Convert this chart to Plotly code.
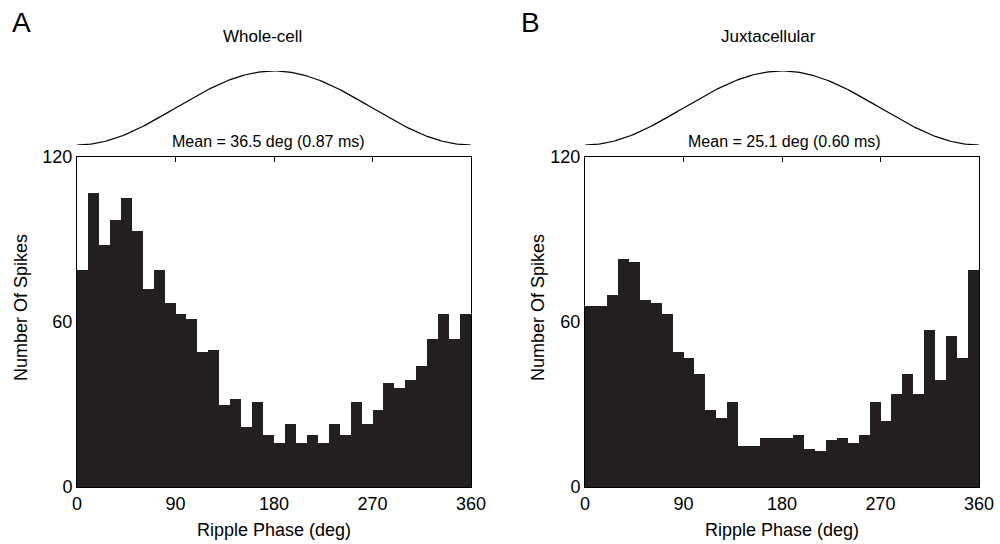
import numpy as np
import plotly.graph_objects as go

# ---- data ----
phase_bin_edges = list(range(0, 370, 10))  # 10-degree bins, 0..360
whole_cell_counts = [79, 107, 88, 97, 105, 93, 72, 79, 67, 63, 61, 49, 50, 30, 32, 22, 31, 19,
                     16, 23, 16, 19, 16, 23, 19, 31, 23, 28, 38, 36, 39, 44, 54, 63, 54, 63]
juxta_counts = [66, 66, 70, 83, 82, 68, 67, 63, 49, 47, 41, 28, 25, 31, 15, 15, 18, 18,
                18, 19, 14, 13, 17, 18, 16, 19, 31, 24, 34, 41, 34, 57, 39, 55, 47, 79]
x_ticks = [0, 90, 180, 270, 360]
y_ticks = [0, 60, 120]
panel_titles = ["Whole-cell", "Juxtacellular"]
panel_letters = ["A", "B"]
mean_texts = ["Mean = 36.5 deg (0.87 ms)", "Mean = 25.1 deg (0.60 ms)"]
# schematic ripple cycle (one period, trough at 0/360, peak at 180)
ripple_phase = np.linspace(0, 360, 181)
ripple_wave = -np.cos(np.deg2rad(ripple_phase))

W, H = 1000, 544
BAR_COLOR = "#231f20"
FONT = "Liberation Sans, Arial, Helvetica, sans-serif"

def px_x(p):
    return p / W

def px_y(p):
    return 1 - p / H

centers = [(a + b) / 2 for a, b in zip(phase_bin_edges[:-1], phase_bin_edges[1:])]

fig = go.Figure()

panels = [
    dict(counts=whole_cell_counts, x0=77, x1=471, xa="x", ya="y", cxa="x3", cya="y3"),
    dict(counts=juxta_counts, x0=585, x1=979, xa="x2", ya="y2", cxa="x4", cya="y4"),
]

for i, p in enumerate(panels):
    fig.add_trace(go.Bar(x=centers, y=p["counts"], width=10, xaxis=p["xa"], yaxis=p["ya"],
                         marker=dict(color=BAR_COLOR, line=dict(width=0)), showlegend=False))
    fig.add_trace(go.Scatter(x=ripple_phase, y=ripple_wave, mode="lines", xaxis=p["cxa"],
                             yaxis=p["cya"], line=dict(color="black", width=1.2),
                             showlegend=False))

axis_common = dict(showline=True, linecolor="black", linewidth=1, mirror="allticks",
                   ticks="inside", ticklen=5, tickcolor="black", showgrid=False,
                   zeroline=False, layer="below traces", automargin=False,
                   tickfont=dict(family=FONT, size=18, color="black"))

plot_y = [px_y(487), px_y(157)]
curve_y = [px_y(145), px_y(71)]

layout = dict(
    width=W, height=H, margin=dict(l=0, r=0, t=0, b=0, pad=0, autoexpand=False),
    paper_bgcolor="white", plot_bgcolor="white", bargap=0, showlegend=False,
    font=dict(family=FONT, color="black"),
)

for i, p in enumerate(panels):
    xk = "xaxis" if i == 0 else "xaxis2"
    yk = "yaxis" if i == 0 else "yaxis2"
    layout[xk] = dict(axis_common, domain=[px_x(p["x0"]), px_x(p["x1"])], range=[0, 360],
                      tickvals=x_ticks, anchor=p["ya"])
    layout[yk] = dict(axis_common, domain=plot_y, range=[0, 120], tickvals=y_ticks,
                      anchor=p["xa"])
    cxk = "xaxis3" if i == 0 else "xaxis4"
    cyk = "yaxis3" if i == 0 else "yaxis4"
    layout[cxk] = dict(domain=[px_x(p["x0"]), px_x(p["x1"])], range=[0, 360], visible=False,
                       automargin=False, anchor=p["cya"])
    layout[cyk] = dict(domain=curve_y, range=[-1, 1], visible=False, automargin=False,
                       anchor=p["cxa"])

fig.update_layout(**layout)

ann = []
title_x = [262, 768]
mean_x = [268, 784]
ylab_x = [21, 538]
letter_x = [10, 519]
for i, p in enumerate(panels):
    ann.append(dict(text=panel_titles[i], x=px_x(title_x[i]), y=px_y(37), xref="paper",
                    yref="paper", showarrow=False, xanchor="center", yanchor="middle",
                    font=dict(family=FONT, size=17)))
    ann.append(dict(text=mean_texts[i], x=px_x(mean_x[i]), y=px_y(142), xref="paper",
                    yref="paper", showarrow=False, xanchor="center", yanchor="middle",
                    font=dict(family=FONT, size=16)))
    ann.append(dict(text="Number Of Spikes", x=px_x(ylab_x[i]), y=px_y(308), xref="paper",
                    yref="paper", showarrow=False, xanchor="center", yanchor="middle",
                    textangle=-90, font=dict(family=FONT, size=18)))
    ann.append(dict(text="Ripple Phase (deg)", x=px_x((p["x0"] + p["x1"]) / 2), y=px_y(530),
                    xref="paper", yref="paper", showarrow=False, xanchor="center",
                    yanchor="middle", font=dict(family=FONT, size=18)))
    ann.append(dict(text=panel_letters[i], x=px_x(letter_x[i]), y=px_y(23), xref="paper",
                    yref="paper", showarrow=False, xanchor="left", yanchor="middle",
                    font=dict(family=FONT, size=28)))

fig.update_layout(annotations=ann)
fig.write_html("out.html")
